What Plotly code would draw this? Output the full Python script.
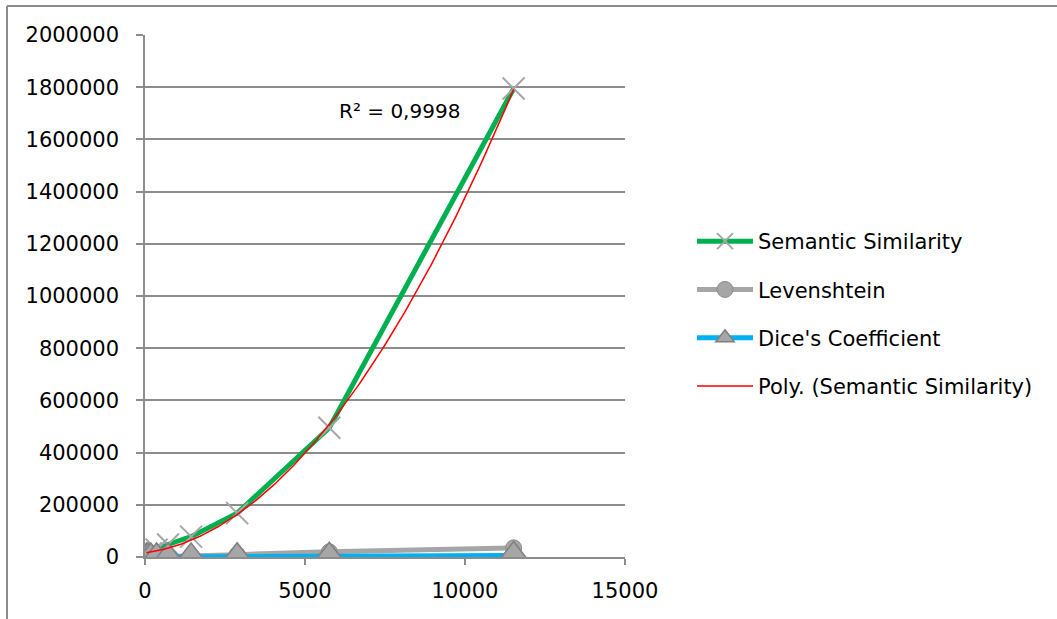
import numpy as np
import plotly.graph_objects as go

# ---- data ----
sizes = [45, 90, 180, 360, 720, 1440, 2880, 5760, 11520]
semantic = [3000, 7000, 14000, 28000, 48000, 78000, 168000, 495000, 1795000]
levenshtein = [50, 100, 250, 600, 1500, 4000, 9000, 20000, 35000]
dice = [10, 20, 50, 100, 250, 500, 1200, 3000, 6000]
r2_label = "R² = 0,9998"
y_ticks = list(range(0, 2000001, 200000))
x_ticks = [0, 5000, 10000, 15000]

FONT = "DejaVu Sans"
GRID = "#8c8c8c"

# polynomial (order 2) trendline of Semantic Similarity
coef = np.polyfit(sizes, semantic, 2)
xt = np.linspace(min(sizes), max(sizes), 200)
yt = np.polyval(coef, xt)

fig = go.Figure()
fig.add_trace(go.Scatter(
    x=sizes, y=semantic, name="Semantic Similarity", mode="lines+markers",
    line=dict(color="#00b050", width=5),
    marker=dict(symbol="x-thin", size=22, color="#a6a6a6",
                line=dict(color="#a6a6a6", width=2)),
    legendgroup="a"))
fig.add_trace(go.Scatter(
    x=sizes, y=levenshtein, name="Levenshtein", mode="lines+markers",
    line=dict(color="#a6a6a6", width=5),
    marker=dict(symbol="circle", size=16, color="#a6a6a6",
                line=dict(color="#8c8c8c", width=1)),
    legendgroup="b"))
fig.add_trace(go.Scatter(
    x=sizes, y=dice, name="Dice's Coefficient", mode="lines+markers",
    line=dict(color="#00b0f0", width=5),
    marker=dict(symbol="triangle-up", size=28, color="#a6a6a6",
                line=dict(color="#7f7f7f", width=1.5)),
    legendgroup="c"))
fig.add_trace(go.Scatter(
    x=xt, y=yt, name="Poly. (Semantic Similarity)", mode="lines",
    line=dict(color="#ff0000", width=1.5),
    legendgroup="d"))

# paper coordinates helpers (plot area: x 145..625, y 35..557 px)
L, R, T, B = 145, 625, 35, 557
def px_x(p):
    return (p - L) / (R - L)
def px_y(p):
    return (B - p) / (B - T)

fig.add_annotation(text=r2_label, x=7950, y=1710000, xref="x", yref="y",
                   showarrow=False, font=dict(family=FONT, size=20, color="#000"))

# outer chart border (top and left)
fig.add_shape(type="line", xref="paper", yref="paper",
              x0=px_x(7), x1=px_x(1060), y0=px_y(6), y1=px_y(6),
              line=dict(color="#8c8c8c", width=2))
fig.add_shape(type="line", xref="paper", yref="paper",
              x0=px_x(7), x1=px_x(7), y0=px_y(6), y1=px_y(640),
              line=dict(color="#8c8c8c", width=2))

fig.update_layout(
    width=1057, height=619,
    margin=dict(l=L, r=1057 - R, t=T, b=619 - B, autoexpand=False),
    paper_bgcolor="white", plot_bgcolor="white",
    font=dict(family=FONT, size=20, color="#000"),
    showlegend=True,
    legend=dict(x=px_x(692), y=px_y(221), xanchor="left", yanchor="top",
                traceorder="grouped", tracegroupgap=18, itemwidth=56,
                font=dict(family=FONT, size=21, color="#000"),
                bgcolor="rgba(0,0,0,0)"),
    xaxis=dict(range=[0, 15000], tickvals=x_ticks, tickformat="d",
               showgrid=False, zeroline=False, showline=True,
               linecolor=GRID, linewidth=1.5, ticks="outside",
               ticklen=6, tickcolor=GRID, tickwidth=1.5,
               ticklabelstandoff=8, tickfont=dict(size=21)),
    yaxis=dict(range=[0, 2000000], tickvals=y_ticks, tickformat="d",
               showgrid=True, gridcolor=GRID, gridwidth=1.5,
               zeroline=False, showline=True, linecolor=GRID, linewidth=1.5,
               ticks="outside", ticklen=7, tickcolor=GRID, tickwidth=1.5,
               ticklabelstandoff=13, tickfont=dict(size=21)),
)

fig.write_html("out.html", config={"displayModeBar": False},
               post_script="document.body.style.margin='0px';")
